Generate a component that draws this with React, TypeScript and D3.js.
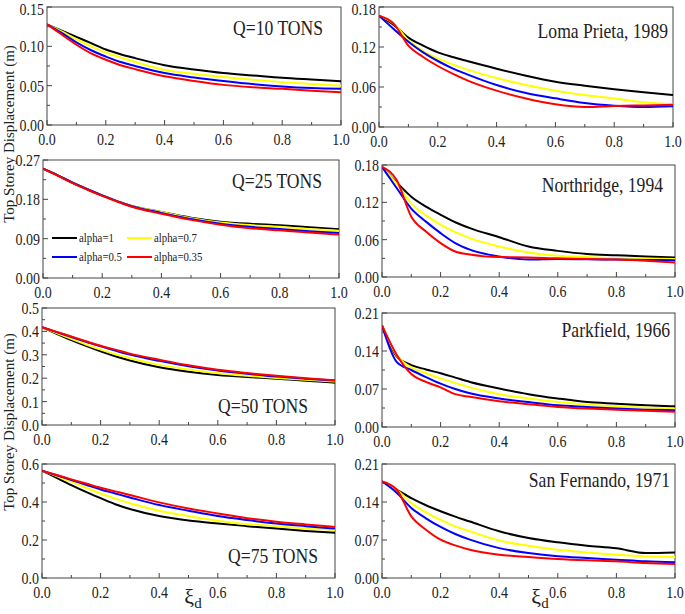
import React from "react";
import * as d3 from "d3";

const XS = [0, 0.05, 0.1, 0.15, 0.2, 0.25, 0.3, 0.4, 0.5, 0.6, 0.7, 0.8, 0.9, 1.0];
const ALPHA_LABELS = ["alpha=1", "alpha=0.7", "alpha=0.5", "alpha=0.35"];
const COLORS = ["#000000", "#ffff00", "#0000ff", "#ff0000"];

// Q = 10 tons
const q10Black = [0.128, 0.120, 0.112, 0.104, 0.096, 0.090, 0.085, 0.076, 0.0705, 0.066, 0.063, 0.060, 0.0578, 0.0557];
const q10Yellow = [0.128, 0.119, 0.109, 0.100, 0.092, 0.086, 0.080, 0.070, 0.065, 0.061, 0.0575, 0.0545, 0.052, 0.050];
const q10Blue = [0.128, 0.117, 0.105, 0.095, 0.087, 0.080, 0.075, 0.066, 0.0605, 0.056, 0.052, 0.049, 0.047, 0.046];
const q10Red = [0.128, 0.115, 0.102, 0.091, 0.083, 0.076, 0.071, 0.062, 0.056, 0.051, 0.048, 0.046, 0.0435, 0.0415];

// Loma Prieta, 1989
const lomaBlack = [0.167, 0.153, 0.134, 0.122, 0.112, 0.105, 0.099, 0.0875, 0.077, 0.068, 0.062, 0.0566, 0.052, 0.048];
const lomaYellow = [0.167, 0.155, 0.130, 0.114, 0.103, 0.094, 0.086, 0.0735, 0.063, 0.0545, 0.048, 0.0427, 0.037, 0.034];
const lomaBlue = [0.167, 0.147, 0.128, 0.112, 0.099, 0.088, 0.079, 0.063, 0.051, 0.043, 0.036, 0.032, 0.030, 0.031];
const lomaRed = [0.167, 0.155, 0.122, 0.105, 0.0915, 0.080, 0.070, 0.0545, 0.0427, 0.034, 0.030, 0.0314, 0.0324, 0.0334];

// Q = 25 tons
const q25Black = [0.250, 0.235, 0.218, 0.203, 0.189, 0.176, 0.165, 0.151, 0.138, 0.129, 0.124, 0.1206, 0.116, 0.1115];
const q25Yellow = [0.250, 0.235, 0.218, 0.203, 0.189, 0.176, 0.165, 0.151, 0.137, 0.127, 0.121, 0.117, 0.112, 0.108];
const q25Blue = [0.250, 0.235, 0.218, 0.203, 0.189, 0.176, 0.164, 0.149, 0.135, 0.124, 0.117, 0.112, 0.107, 0.103];
const q25Red = [0.250, 0.234, 0.217, 0.202, 0.188, 0.175, 0.163, 0.147, 0.133, 0.122, 0.114, 0.109, 0.104, 0.0995];

// Northridge, 1994
const northBlack = [0.177, 0.152, 0.129, 0.113, 0.100, 0.088, 0.0785, 0.064, 0.049, 0.042, 0.037, 0.035, 0.033, 0.0315];
const northYellow = [0.177, 0.150, 0.118, 0.099, 0.084, 0.072, 0.0625, 0.049, 0.0395, 0.034, 0.032, 0.030, 0.0295, 0.029];
const northBlue = [0.177, 0.143, 0.110, 0.089, 0.0705, 0.0545, 0.044, 0.033, 0.028, 0.029, 0.0285, 0.028, 0.0275, 0.027];
const northRed = [0.177, 0.156, 0.097, 0.073, 0.0545, 0.041, 0.036, 0.032, 0.0315, 0.030, 0.029, 0.028, 0.026, 0.0235];

// Q = 50 tons
const q50Black = [0.418, 0.390, 0.363, 0.338, 0.315, 0.294, 0.276, 0.247, 0.228, 0.214, 0.205, 0.198, 0.189, 0.181];
const q50Yellow = [0.418, 0.393, 0.368, 0.344, 0.322, 0.302, 0.285, 0.257, 0.237, 0.221, 0.210, 0.201, 0.193, 0.186];
const q50Blue = [0.418, 0.397, 0.376, 0.356, 0.336, 0.318, 0.301, 0.274, 0.251, 0.233, 0.219, 0.207, 0.198, 0.190];
const q50Red = [0.418, 0.398, 0.378, 0.358, 0.339, 0.322, 0.305, 0.279, 0.255, 0.236, 0.222, 0.210, 0.200, 0.191];

// Parkfield, 1966
const parkBlack = [0.187, 0.130, 0.114, 0.106, 0.099, 0.091, 0.083, 0.071, 0.0605, 0.0525, 0.046, 0.043, 0.040, 0.038];
const parkYellow = [0.187, 0.132, 0.110, 0.099, 0.0895, 0.081, 0.073, 0.0605, 0.0525, 0.046, 0.041, 0.038, 0.036, 0.033];
const parkBlue = [0.187, 0.120, 0.105, 0.092, 0.080, 0.070, 0.062, 0.0525, 0.046, 0.040, 0.037, 0.034, 0.032, 0.031];
const parkRed = [0.187, 0.133, 0.0975, 0.083, 0.073, 0.0605, 0.0556, 0.0475, 0.042, 0.037, 0.034, 0.032, 0.030, 0.028];

// Q = 75 tons
const q75Black = [0.565, 0.527, 0.489, 0.453, 0.420, 0.388, 0.363, 0.326, 0.303, 0.287, 0.273, 0.260, 0.248, 0.238];
const q75Yellow = [0.565, 0.536, 0.507, 0.475, 0.445, 0.418, 0.393, 0.354, 0.326, 0.301, 0.283, 0.273, 0.260, 0.252];
const q75Blue = [0.565, 0.541, 0.516, 0.491, 0.466, 0.445, 0.424, 0.384, 0.354, 0.326, 0.305, 0.287, 0.273, 0.260];
const q75Red = [0.565, 0.542, 0.519, 0.497, 0.475, 0.456, 0.437, 0.398, 0.366, 0.340, 0.315, 0.296, 0.282, 0.269];

// San Fernando, 1971
const sanBlack = [0.178, 0.163, 0.147, 0.134, 0.123, 0.113, 0.104, 0.086, 0.0737, 0.0657, 0.0595, 0.0546, 0.046, 0.047];
const sanYellow = [0.178, 0.163, 0.138, 0.121, 0.107, 0.095, 0.086, 0.069, 0.0595, 0.052, 0.047, 0.043, 0.040, 0.0387];
const sanBlue = [0.178, 0.157, 0.129, 0.110, 0.094, 0.081, 0.0706, 0.055, 0.046, 0.040, 0.0368, 0.0338, 0.0307, 0.029];
const sanRed = [0.178, 0.163, 0.1136, 0.089, 0.0706, 0.060, 0.052, 0.043, 0.0387, 0.035, 0.0325, 0.0307, 0.0276, 0.0258];

const X_TICKS = [0, 0.2, 0.4, 0.6, 0.8, 1.0];
const X_MINOR = [0.1, 0.3, 0.5, 0.7, 0.9];

const TITLES = ["Q=10 TONS", "Loma Prieta, 1989", "Q=25 TONS", "Northridge, 1994", "Q=50 TONS", "Parkfield, 1966", "Q=75 TONS", "San Fernando, 1971"];
const Y_TICKS = [
  [0, 0.05, 0.1, 0.15],
  [0, 0.06, 0.12, 0.18],
  [0, 0.09, 0.18, 0.27],
  [0, 0.06, 0.12, 0.18],
  [0, 0.1, 0.2, 0.3, 0.4, 0.5],
  [0, 0.07, 0.14, 0.21],
  [0, 0.2, 0.4, 0.6],
  [0, 0.07, 0.14, 0.21],
];
const Y_DECIMALS = [2, 2, 2, 2, 1, 2, 1, 2];
const SERIES = [
  [q10Black, q10Yellow, q10Blue, q10Red],
  [lomaBlack, lomaYellow, lomaBlue, lomaRed],
  [q25Black, q25Yellow, q25Blue, q25Red],
  [northBlack, northYellow, northBlue, northRed],
  [q50Black, q50Yellow, q50Blue, q50Red],
  [parkBlack, parkYellow, parkBlue, parkRed],
  [q75Black, q75Yellow, q75Blue, q75Red],
  [sanBlack, sanYellow, sanBlue, sanRed],
];

// layout (pixel boxes and title anchors)
const LAYOUT = [
  { l: 47, r: 341, t: 7, b: 125, tx: 323, ty: 35 },
  { l: 379, r: 673, t: 7, b: 127, tx: 668, ty: 38 },
  { l: 43, r: 339, t: 160, b: 278, tx: 322, ty: 188 },
  { l: 382, r: 675, t: 165, b: 277, tx: 663, ty: 192 },
  { l: 42, r: 335, t: 308, b: 425, tx: 308, ty: 413 },
  { l: 382, r: 675, t: 313, b: 427, tx: 670, ty: 337 },
  { l: 42, r: 335, t: 464, b: 578, tx: 318, ty: 563 },
  { l: 382, r: 675, t: 464, b: 578, tx: 670, ty: 487 },
];

const FONT = "'Liberation Serif', 'Times New Roman', serif";
const SX = 0.8;

function SText({ x, y, size, anchor = "start", children, fill = "#222" }: any) {
  return (
    <text
      transform={`translate(${x},${y}) scale(${SX},1)`}
      fontSize={size}
      textAnchor={anchor}
      fontFamily={FONT}
      fill={fill}
    >
      {children}
    </text>
  );
}

function Panel({ idx }: { idx: number }) {
  const L = LAYOUT[idx];
  const yt = Y_TICKS[idx];
  const yMax = yt[yt.length - 1];
  const x = d3.scaleLinear().domain([0, 1]).range([L.l, L.r]);
  const y = d3.scaleLinear().domain([0, yMax]).range([L.b, L.t]);
  const line = d3
    .line<number>()
    .x((_, i) => x(XS[i]))
    .y((d) => y(d))
    .curve(d3.curveMonotoneX);
  const yMinor = yt.slice(0, -1).map((v, i) => (v + yt[i + 1]) / 2);
  const fmt = d3.format(`.${Y_DECIMALS[idx]}f`);
  const axisColor = "#444";
  return (
    <g>
      <defs>
        <clipPath id={`clip${idx}`}>
          <rect x={L.l} y={L.t} width={L.r - L.l} height={L.b - L.t} />
        </clipPath>
      </defs>
      <rect x={L.l} y={L.t} width={L.r - L.l} height={L.b - L.t} fill="white" stroke={axisColor} strokeWidth={1} />
      {X_TICKS.map((v) => (
        <line key={"xt" + v} x1={x(v)} x2={x(v)} y1={L.b} y2={L.b - 5} stroke={axisColor} />
      ))}
      {X_MINOR.map((v) => (
        <line key={"xm" + v} x1={x(v)} x2={x(v)} y1={L.b} y2={L.b - 3} stroke={axisColor} />
      ))}
      {yt.map((v) => (
        <line key={"yt" + v} x1={L.l} x2={L.l + 5} y1={y(v)} y2={y(v)} stroke={axisColor} />
      ))}
      {yMinor.map((v) => (
        <line key={"ym" + v} x1={L.l} x2={L.l + 3} y1={y(v)} y2={y(v)} stroke={axisColor} />
      ))}
      {X_TICKS.map((v) => (
        <SText key={"xl" + v} x={x(v)} y={L.b + 20} size={17.5} anchor="middle">
          {v.toFixed(1)}
        </SText>
      ))}
      {yt.map((v) => (
        <SText key={"yl" + v} x={L.l - 3} y={Math.max(y(v) + 6, 15)} size={17.5} anchor="end">
          {fmt(v)}
        </SText>
      ))}
      <g clipPath={`url(#clip${idx})`}>
        {SERIES[idx].map((s, i) => (
          <path key={i} d={line(s) || ""} fill="none" stroke={COLORS[i]} strokeWidth={2} strokeLinejoin="round" />
        ))}
      </g>
      <SText x={L.tx} y={L.ty} size={22} anchor="end">
        {TITLES[idx]}
      </SText>
    </g>
  );
}

function Legend() {
  const items = [
    { x: 52, y: 238 },
    { x: 127, y: 238 },
    { x: 52, y: 257 },
    { x: 127, y: 257 },
  ];
  return (
    <g>
      {items.map((p, i) => (
        <g key={i}>
          <line x1={p.x} x2={p.x + 25} y1={p.y} y2={p.y} stroke={COLORS[i]} strokeWidth={2} />
          <SText x={p.x + 27} y={p.y + 4} size={13.5}>
            {ALPHA_LABELS[i]}
          </SText>
        </g>
      ))}
    </g>
  );
}

export default function App() {
  return (
    <svg width={685} height={614} style={{ position: "absolute", left: 0, top: 0, background: "white" }}>
      <rect width={685} height={614} fill="white" />
      {LAYOUT.map((_, i) => (
        <Panel key={i} idx={i} />
      ))}
      <Legend />
      {[134, 422].map((cy) => (
        <text
          key={cy}
          transform={`translate(14,${cy}) rotate(-90)`}
          fontSize={15}
          textAnchor="middle"
          fontFamily={FONT}
          fill="#222"
        >
          Top Storey Displacement (m)
        </text>
      ))}
      {[193, 540].map((cx) => (
        <text key={cx} x={cx} y={604} fontSize={22} fontFamily={FONT} fill="#222" textAnchor="middle">
          ξ<tspan fontSize={15} dy={4}>d</tspan>
        </text>
      ))}
    </svg>
  );
}
